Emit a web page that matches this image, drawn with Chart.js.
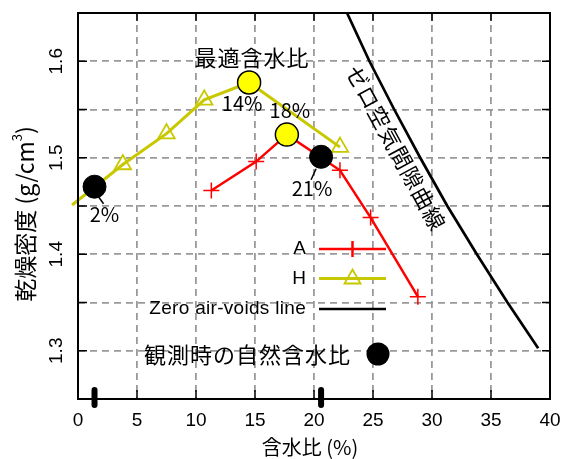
<!DOCTYPE html>
<html>
<head>
<meta charset="utf-8">
<script src="https://cdn.jsdelivr.net/npm/chart.js@4.4.0/dist/chart.umd.min.js"></script>
<style>
  html, body { margin: 0; padding: 0; background: #fff; }
  canvas { display: block; }
</style>
</head>
<body>
<canvas id="myChart" width="563" height="459"></canvas>
<script>
// --- data ---
const xTicks = [0, 5, 10, 15, 20, 25, 30, 35, 40];
const yTickLabels = [1.3, 1.4, 1.5, 1.6];
const yTickMarks = [1.3, 1.35, 1.4, 1.45, 1.5, 1.55, 1.6];

const waterA = [11.3, 15.1, 17.7, 22.2, 24.8, 28.8];
const densityA = [1.466, 1.496, 1.524, 1.487, 1.438, 1.356];

const waterH = [-0.5, 3.8, 7.5, 10.7, 14.5, 22.2];
const densityH = [1.451, 1.493, 1.525, 1.560, 1.578, 1.511];

const waterZero = [22.8, 24.7, 26.8, 29.0, 31.3, 33.8, 36.4, 39.0];
const densityZero = [1.65, 1.60, 1.55, 1.50, 1.45, 1.40, 1.35, 1.3025];

const optimumWater = [14.5, 17.7];
const optimumDensity = [1.578, 1.524];
const optimumLabels = ['14%', '18%'];

const naturalWater = [1.4, 20.6];
const naturalDensity = [1.470, 1.501];
const naturalLabels = ['2%', '21%'];

// --- colours / fonts ---
const RED = '#ff0000';
const OLIVE = '#c8c800';
const CJK = '"Noto Sans CJK JP", "Noto Sans CJK SC", sans-serif';
const SANS = '"Liberation Sans", Arial, sans-serif';

const toPoints = (xs, ys) => xs.map((v, i) => ({ x: v, y: ys[i] }));

// label offsets (pixels from the marker)
const optimumLabelOffset = [[-7, 21], [3, -24]];
const naturalLabelOffset = [[10, 28], [-9, 32]];
const naturalLeader = [[[4, 10], [9, 17]], [[-5, 12], [-10, 23]]];

function text(ctx, str, x, y, font, align, baseline, spacing) {
    ctx.font = font;
    ctx.textAlign = align || 'center';
    ctx.textBaseline = baseline || 'middle';
    ctx.letterSpacing = spacing || '0px';
    ctx.fillText(str, x, y);
    ctx.letterSpacing = '0px';
}

const decorPlugin = {
    id: 'decor',
    afterDatasetsDraw(chart) {
        const { ctx, chartArea: a, scales: { x, y } } = chart;
        ctx.save();
        ctx.fillStyle = '#000';
        ctx.strokeStyle = '#000';

        // frame
        ctx.lineWidth = 2;
        ctx.strokeRect(a.left, a.top, a.right - a.left, a.bottom - a.top);

        // inward ticks
        ctx.lineWidth = 1.5;
        ctx.beginPath();
        xTicks.slice(1, -1).forEach(v => {
            const px = x.getPixelForValue(v);
            ctx.moveTo(px, a.bottom); ctx.lineTo(px, a.bottom - 9);
            ctx.moveTo(px, a.top); ctx.lineTo(px, a.top + 8);
        });
        yTickMarks.forEach(v => {
            const py = y.getPixelForValue(v);
            ctx.moveTo(a.left, py); ctx.lineTo(a.left + 9, py);
            ctx.moveTo(a.right, py); ctx.lineTo(a.right - 8, py);
        });
        ctx.stroke();

        // rug marks for natural water content
        ctx.lineWidth = 6;
        ctx.lineCap = 'round';
        ctx.beginPath();
        naturalWater.forEach(v => {
            const px = x.getPixelForValue(v);
            ctx.moveTo(px, a.bottom - 9); ctx.lineTo(px, a.bottom + 6);
        });
        ctx.stroke();
        ctx.lineCap = 'butt';

        // tick labels
        xTicks.forEach(v => text(ctx, String(v), x.getPixelForValue(v), 426, '19px ' + SANS, 'center', 'alphabetic'));
        yTickLabels.forEach(v => {
            ctx.save();
            ctx.translate(62, y.getPixelForValue(v));
            ctx.rotate(-Math.PI / 2);
            text(ctx, v.toFixed(1), 0, 0, '19px ' + SANS, 'center', 'alphabetic');
            ctx.restore();
        });

        // axis titles
        text(ctx, '含水比 (%)', (a.left + a.right) / 2 - 4, 447, '20px ' + CJK);
        ctx.save();
        ctx.translate(25, 214);
        ctx.rotate(-Math.PI / 2);
        const parts = [['乾燥密度 (g/cm', '23px ' + CJK, 0], ['3', '13px ' + CJK, -8], [')', '23px ' + CJK, 0]];
        let total = 0;
        parts.forEach(p => { ctx.font = p[1]; total += ctx.measureText(p[0]).width; });
        let cx = -total / 2;
        parts.forEach(p => {
            text(ctx, p[0], cx, p[2], p[1], 'left', 'middle');
            ctx.font = p[1];
            cx += ctx.measureText(p[0]).width;
        });
        ctx.restore();

        // annotations on the markers
        optimumLabels.forEach((s, i) => {
            const px = x.getPixelForValue(optimumWater[i]);
            const py = y.getPixelForValue(optimumDensity[i]);
            text(ctx, s, px + optimumLabelOffset[i][0], py + optimumLabelOffset[i][1], '20px ' + CJK);
        });
        const p14x = x.getPixelForValue(optimumWater[0]);
        const p14y = y.getPixelForValue(optimumDensity[0]);
        text(ctx, '最適含水比', p14x + 3, p14y - 25, '22px ' + CJK, 'center', 'middle', '1px');

        ctx.lineWidth = 1.5;
        naturalLabels.forEach((s, i) => {
            const px = x.getPixelForValue(naturalWater[i]);
            const py = y.getPixelForValue(naturalDensity[i]);
            const l = naturalLeader[i];
            ctx.beginPath();
            ctx.moveTo(px + l[0][0], py + l[0][1]);
            ctx.lineTo(px + l[1][0], py + l[1][1]);
            ctx.stroke();
            text(ctx, s, px + naturalLabelOffset[i][0], py + naturalLabelOffset[i][1], '20px ' + CJK);
        });

        // label along the zero air-voids curve
        ctx.save();
        ctx.translate(x.getPixelForValue(26.95), y.getPixelForValue(1.51));
        ctx.rotate(61.5 * Math.PI / 180);
        text(ctx, 'ゼロ空気間隙曲線', 0, 0, '22px ' + CJK, 'center', 'middle', '1px');
        ctx.restore();

        // legend
        const lx0 = 319, lx1 = 386, mx = 352.5, tx = 306;
        const rows = [249, 278.5, 309];
        text(ctx, 'A', tx, rows[0], '19px ' + SANS, 'right');
        text(ctx, 'H', tx, rows[1], '19px ' + SANS, 'right');
        text(ctx, 'Zero air-voids line', tx, rows[2], '19px ' + SANS, 'right', 'middle', '0.3px');

        ctx.lineWidth = 2.5;
        ctx.strokeStyle = RED;
        ctx.beginPath(); ctx.moveTo(lx0, rows[0]); ctx.lineTo(lx1, rows[0]);
        ctx.moveTo(mx, rows[0] - 8); ctx.lineTo(mx, rows[0] + 8); ctx.stroke();

        ctx.strokeStyle = OLIVE;
        ctx.lineWidth = 3;
        ctx.beginPath(); ctx.moveTo(lx0, rows[1]); ctx.lineTo(lx1, rows[1]); ctx.stroke();
        ctx.lineWidth = 1.8;
        ctx.beginPath();
        ctx.moveTo(mx, rows[1] - 9); ctx.lineTo(mx + 8, rows[1] + 5); ctx.lineTo(mx - 8, rows[1] + 5); ctx.closePath();
        ctx.stroke();

        ctx.strokeStyle = '#000';
        ctx.lineWidth = 2.5;
        ctx.beginPath(); ctx.moveTo(lx0, rows[2]); ctx.lineTo(lx1, rows[2]); ctx.stroke();

        text(ctx, '観測時の自然含水比', 351, 355, '22px ' + CJK, 'right', 'middle', '1px');
        ctx.beginPath(); ctx.arc(378, 354, 11.5, 0, Math.PI * 2); ctx.fill();

        ctx.restore();
    }
};

const ctx = document.getElementById('myChart').getContext('2d');
new Chart(ctx, {
    type: 'scatter',
    data: {
        datasets: [
            {
                label: '最適含水比',
                data: toPoints(optimumWater, optimumDensity),
                showLine: false,
                pointRadius: 11.5,
                pointBackgroundColor: '#ffff00',
                pointBorderColor: '#000',
                pointBorderWidth: 1.5,
                clip: false
            },
            {
                label: '観測時の自然含水比',
                data: toPoints(naturalWater, naturalDensity),
                showLine: false,
                pointRadius: 11.5,
                pointBackgroundColor: '#000',
                pointBorderColor: '#000',
                pointBorderWidth: 1,
                clip: false
            },
            {
                label: 'A',
                data: toPoints(waterA, densityA),
                showLine: true,
                borderColor: RED,
                borderWidth: 2.5,
                pointStyle: 'cross',
                pointRadius: 8,
                pointBorderWidth: 1.5,
                pointBorderColor: RED,
                pointBackgroundColor: RED
            },
            {
                label: 'H',
                data: toPoints(waterH, densityH),
                showLine: true,
                borderColor: OLIVE,
                borderWidth: 3,
                pointStyle: 'triangle',
                pointRadius: waterH.map(w => (w < 0 ? 0 : 9.5)),
                pointBorderWidth: 1.8,
                pointBorderColor: OLIVE,
                pointBackgroundColor: 'rgba(0,0,0,0)',
                clip: 10
            },
            {
                label: 'Zero air-voids line',
                data: toPoints(waterZero, densityZero),
                showLine: true,
                borderColor: '#000',
                borderWidth: 2.7,
                pointRadius: 0
            }
        ]
    },
    options: {
        responsive: false,
        animation: false,
        events: [],
        layout: { padding: { left: 78, top: 13, right: 13, bottom: 60 } },
        plugins: { legend: { display: false }, tooltip: { enabled: false } },
        scales: {
            x: {
                type: 'linear', min: 0, max: 40,
                ticks: { display: false, stepSize: 5 },
                grid: { color: '#999', lineWidth: 1.8, drawTicks: false },
                border: { display: false, dash: [7, 5] }
            },
            y: {
                type: 'linear', min: 1.25, max: 1.65,
                ticks: { display: false, stepSize: 0.05 },
                grid: { color: '#999', lineWidth: 1.8, drawTicks: false },
                border: { display: false, dash: [7, 5] }
            }
        }
    },
    plugins: [decorPlugin]
});
</script>
</body>
</html>
